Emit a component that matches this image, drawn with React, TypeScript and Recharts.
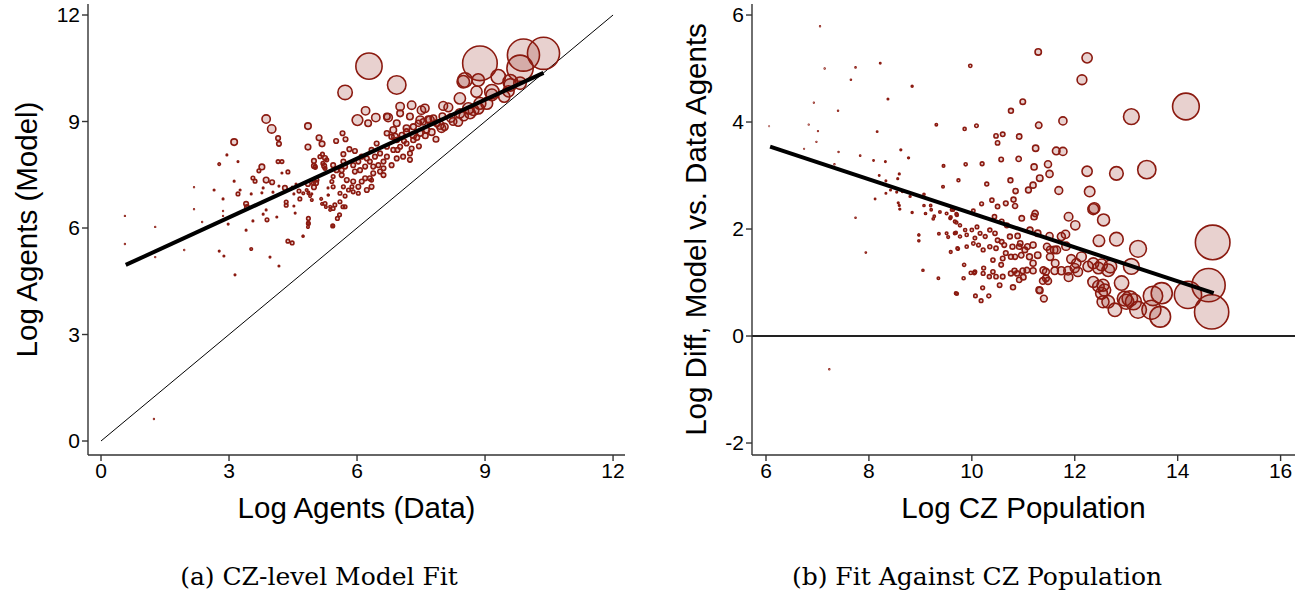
import React from 'react';
import { ScatterChart, Scatter, XAxis, YAxis, ZAxis, ReferenceLine, Label } from 'recharts';

// Panel (a): [log agents (data), log agents (model), log CZ population]
const panelAPoints: [number, number, number][] = [
  [3.87, 9.07, 11.8], [4.0, 8.79, 11.8], [3.12, 8.42, 11.3], [4.85, 8.87, 11.3], [5.11, 8.54, 11.0],
  [5.18, 8.37, 11.0], [4.85, 8.28, 11.0], [4.15, 8.53, 10.6], [4.17, 8.37, 10.6], [2.95, 8.06, 8.4],
  [3.21, 7.87, 8.4], [2.77, 7.8, 9.4], [4.15, 7.87, 10.1], [4.24, 7.87, 10.1], [3.77, 7.72, 11.0],
  [3.7, 7.61, 10.1], [4.99, 7.89, 10.6], [5.25, 7.97, 10.6], [4.99, 7.75, 10.6], [5.23, 7.75, 10.6],
  [4.38, 7.58, 10.1], [4.24, 7.55, 8.4], [3.56, 7.41, 10.1], [3.61, 7.32, 10.1], [3.87, 7.35, 11.0],
  [4.01, 7.29, 10.6], [3.12, 7.32, 8.4], [2.18, 7.15, 7.0], [2.65, 7.07, 8.4], [3.26, 7.07, 8.4],
  [3.8, 7.13, 8.4], [3.77, 6.99, 8.4], [3.52, 6.96, 8.4], [3.21, 6.96, 10.1], [4.03, 7.01, 8.4],
  [4.17, 7.18, 8.4], [4.31, 7.13, 10.6], [4.48, 7.15, 8.4], [4.57, 7.24, 8.4], [4.64, 7.04, 10.1],
  [4.52, 6.96, 8.4], [4.85, 7.24, 10.6], [5.04, 7.27, 10.6], [4.99, 7.15, 10.6], [4.87, 7.01, 8.4],
  [4.94, 6.96, 8.4], [4.66, 6.82, 10.1], [5.32, 7.13, 8.4], [5.32, 6.93, 8.4], [2.86, 6.82, 8.4],
  [3.4, 6.68, 10.6], [3.42, 6.59, 10.6], [4.34, 6.73, 10.1], [4.34, 6.64, 10.1], [4.52, 6.62, 8.4],
  [3.87, 6.51, 8.4], [5.16, 6.82, 9.4], [5.18, 6.68, 9.4], [5.27, 6.59, 9.4], [5.37, 6.51, 9.4],
  [2.18, 6.53, 7.0], [2.86, 6.48, 7.0], [2.86, 6.34, 7.0], [3.8, 6.39, 8.4], [4.12, 6.31, 8.4],
  [4.55, 6.42, 8.4], [3.89, 6.23, 10.1], [3.56, 6.2, 8.4], [2.37, 6.17, 7.0], [2.98, 6.11, 8.4],
  [0.56, 6.34, 7.0], [1.27, 6.03, 7.0], [4.85, 6.14, 9.4], [4.85, 6.03, 9.4], [5.44, 6.06, 9.4],
  [3.4, 5.94, 8.4], [4.73, 5.77, 8.4], [4.38, 5.63, 10.1], [4.48, 5.58, 10.1], [0.56, 5.55, 7.0],
  [1.27, 5.18, 7.0], [1.95, 5.38, 7.0], [2.77, 5.35, 8.4], [2.88, 5.21, 8.4], [3.52, 5.41, 9.4],
  [3.96, 5.18, 8.4], [4.17, 4.93, 8.4], [3.14, 4.68, 8.4], [1.24, 0.62, 7.0],
  [5.51, 8.45, 10.6], [5.66, 8.67, 10.6], [5.73, 8.5, 10.6], [5.82, 8.22, 10.6], [5.95, 8.17, 10.6],
  [5.68, 8.08, 10.6], [5.19, 8.08, 10.1], [5.2, 7.82, 10.1], [5.02, 7.71, 10.1], [5.25, 7.68, 10.1],
  [5.44, 7.77, 10.6], [5.52, 7.63, 10.6], [5.64, 7.63, 10.6], [5.72, 7.73, 10.6], [5.68, 7.87, 10.6],
  [5.91, 7.77, 10.6], [6.03, 7.87, 10.6], [6.11, 8.01, 10.6], [6.23, 7.96, 10.6], [6.3, 7.87, 10.6],
  [6.19, 7.73, 10.6], [6.07, 7.63, 10.6], [5.95, 7.59, 10.6], [6.38, 7.73, 10.6], [6.5, 7.77, 10.6],
  [6.54, 7.59, 10.6], [6.38, 7.54, 10.6], [6.3, 7.4, 10.6], [6.19, 7.4, 10.6], [6.11, 7.31, 10.6],
  [6.62, 7.49, 10.6], [6.34, 7.16, 10.6], [6.23, 7.07, 10.6], [6.03, 7.16, 10.6], [5.91, 7.31, 10.6],
  [5.76, 7.35, 10.6], [5.64, 7.49, 10.6], [5.44, 7.45, 10.1], [5.41, 7.31, 10.1], [5.44, 7.16, 10.1],
  [5.68, 7.16, 10.1], [5.8, 7.07, 10.1], [5.88, 7.16, 10.1], [5.91, 7.02, 10.1], [6.03, 6.98, 10.1],
  [5.72, 6.9, 10.1], [5.6, 6.98, 10.1], [4.98, 7.26, 10.1], [5.06, 7.35, 10.1], [4.82, 7.07, 9.4],
  [4.86, 6.98, 9.4], [4.9, 6.9, 9.4], [4.74, 6.98, 9.4], [4.94, 6.79, 9.4], [5.25, 6.69, 10.1],
  [5.37, 6.6, 9.4], [5.44, 6.55, 10.1], [5.48, 6.65, 10.1], [5.6, 6.74, 10.1], [5.72, 6.6, 10.1],
  [5.59, 6.37, 10.1], [5.54, 6.27, 10.1], [5.33, 6.93, 8.4], [4.74, 5.77, 8.4], [5.13, 8.01, 10.1],
  [5.29, 7.92, 10.1], [6.34, 7.35, 10.1], [5.67, 6.6, 10.1], [5.02, 7.73, 10.1], [4.86, 6.27, 10.1],
  [4.86, 6.13, 10.1], [5.43, 6.06, 10.1],
  [6.7, 8.67, 10.8], [6.81, 8.57, 10.8], [6.93, 8.48, 10.8], [7.05, 8.62, 10.8], [7.16, 8.71, 11.1],
  [7.32, 8.85, 11.1], [7.44, 8.95, 11.2], [7.55, 8.99, 11.2], [7.67, 9.06, 11.3], [7.79, 9.09, 11.3],
  [6.7, 8.29, 10.6], [6.85, 8.2, 10.6], [7.01, 8.29, 10.6], [7.16, 8.38, 10.6], [7.32, 8.48, 10.8],
  [7.24, 8.1, 10.6], [7.08, 8.01, 10.6], [6.93, 7.96, 10.6], [6.7, 8.01, 10.6], [6.62, 7.87, 10.6],
  [6.81, 7.77, 10.6], [6.46, 8.38, 10.6], [6.54, 8.1, 10.6], [6.34, 8.2, 10.6], [6.42, 8.01, 10.6],
  [6.62, 7.68, 10.6], [7.24, 7.92, 10.6], [7.28, 8.24, 10.6], [7.48, 8.67, 11.1], [7.63, 8.76, 11.1],
  [7.87, 8.95, 11.3], [6.93, 8.95, 11.3], [7.01, 9.23, 11.3], [7.24, 9.14, 11.3],
  [7.4, 8.55, 11.0], [7.6, 8.6, 11.0], [7.75, 8.7, 11.3], [8.05, 8.85, 11.5], [8.25, 9.0, 11.6],
  [8.5, 9.15, 12.0], [7.85, 8.5, 11.0], [7.1, 8.45, 10.6], [6.95, 8.2, 10.6], [7.45, 8.3, 10.6],
  [6.7, 9.14, 11.3], [7.01, 9.42, 11.8], [7.28, 9.46, 11.8], [7.59, 9.37, 11.8], [8.02, 9.44, 11.9],
  [8.14, 9.4, 11.9], [7.48, 9.04, 11.8], [7.71, 9.04, 11.8], [7.94, 8.9, 11.8], [6.85, 8.76, 11.3],
  [7.16, 8.81, 11.3], [7.32, 8.62, 11.3], [6.89, 8.57, 11.3], [8.37, 8.99, 11.9], [8.41, 9.23, 12.0],
  [8.41, 9.65, 12.4], [8.61, 9.37, 12.4], [8.8, 9.84, 12.4], [8.88, 9.51, 12.5], [9.04, 9.51, 12.5],
  [9.16, 9.75, 12.5], [8.84, 9.37, 12.4], [8.53, 10.17, 12.9], [8.84, 10.17, 12.6], [9.31, 10.26, 12.9],
  [9.59, 10.12, 12.9], [9.82, 10.08, 12.6], [8.49, 10.12, 12.6], [9.16, 9.84, 12.9], [9.59, 10.03, 12.6],
  [8.65, 9.23, 12.3], [8.73, 9.32, 12.3], [7.98, 8.81, 11.8], [7.51, 9.32, 11.8], [6.73, 9.11, 11.8],
  [6.44, 9.11, 11.8], [6.01, 9.04, 12.3], [6.2, 9.3, 11.8], [6.26, 8.95, 11.3], [9.45, 9.7, 12.4],
  [9.55, 9.85, 12.4], [8.2, 9.1, 11.8], [8.0, 9.15, 11.3],
  [5.72, 9.82, 12.9], [6.93, 10.03, 13.4], [6.28, 10.56, 14.1], [9.82, 10.5, 14.1],
  [8.88, 10.64, 14.65], [9.9, 10.87, 14.5], [10.37, 10.92, 14.5],
];

// Panel (b): [log CZ population, log diff model vs. data]
const panelBPoints: [number, number][] = [
  [7.05, 5.79], [7.14, 5.0], [7.74, 5.02], [8.22, 5.1], [7.65, 4.79], [8.84, 4.67], [8.37, 4.43],
  [6.93, 4.36], [7.4, 4.21], [6.06, 3.92], [6.83, 3.95], [7.01, 3.83], [6.98, 3.63], [8.16, 3.82],
  [9.31, 3.95], [6.74, 3.5], [7.41, 3.44], [8.62, 3.48], [8.77, 3.33], [7.83, 3.37], [7.33, 3.21],
  [8.09, 3.28], [8.32, 3.26], [9.45, 3.18], [8.2, 3.0], [8.59, 3.03], [8.56, 2.94], [8.33, 2.9],
  [9.74, 2.91], [9.44, 2.79], [8.42, 2.73], [8.33, 2.67], [8.54, 2.69], [8.65, 2.7], [8.8, 2.61],
  [9.07, 2.65], [8.12, 2.56], [8.57, 2.49], [8.59, 2.44], [8.6, 2.37], [9.07, 2.44], [9.2, 2.44],
  [9.21, 2.36], [9.38, 2.32], [9.1, 2.29], [8.84, 2.31], [9.27, 2.24], [9.25, 2.19], [9.59, 2.22],
  [9.64, 2.36], [9.7, 2.28], [9.7, 2.12], [7.74, 2.21], [8.97, 1.89], [8.97, 1.78], [9.36, 1.91],
  [9.54, 1.85], [9.69, 1.93], [9.73, 1.63], [9.59, 1.57], [7.94, 1.56], [9.05, 1.23], [9.35, 1.08],
  [9.71, 0.79], [7.23, -0.62],
  [10.99, 4.38], [10.76, 4.21], [11.3, 3.94], [11.77, 4.02], [9.86, 3.87], [10.09, 3.93], [10.47, 3.74],
  [10.6, 3.77], [10.5, 3.61], [10.92, 3.73], [11.24, 3.51], [11.64, 3.46], [11.77, 3.45], [10.57, 3.3],
  [10.91, 3.31], [9.88, 3.21], [10.2, 3.22], [11.48, 3.21], [11.21, 3.16], [12.24, 3.08], [12.81, 3.04],
  [11.51, 3.03], [11.32, 2.95], [10.75, 2.91], [10.29, 2.84], [11.19, 2.82], [11.1, 2.73], [10.85, 2.71],
  [11.69, 2.72], [12.29, 2.7], [10.39, 2.54], [10.81, 2.55], [10.19, 2.47], [10.5, 2.42], [10.66, 2.48],
  [10.84, 2.43], [12.36, 2.37], [12.38, 2.39], [10.03, 2.34], [11.23, 2.29], [11.21, 2.23], [10.97, 2.2],
  [10.44, 2.23], [11.88, 2.23], [12.01, 2.07], [12.56, 2.17], [12.81, 1.81], [12.47, 1.78], [11.74, 1.86],
  [11.82, 1.9], [11.51, 1.87], [11.28, 1.92], [10.89, 1.87], [9.72, 1.64], [9.85, 1.33], [9.84, 1.08],
  [9.69, 0.8], [10.07, 0.75], [10.18, 0.66], [10.33, 0.75], [10.21, 0.9], [10.54, 0.95], [10.8, 0.91],
  [11.32, 0.85], [11.4, 0.7], [10.92, 1.05], [11.38, 1.03], [11.48, 1.03], [10.34, 1.11], [9.98, 1.18],
  [10.05, 1.18], [10.22, 1.17],
  [13.23, 1.63], [13.1, 1.3], [13.4, 3.11], [13.1, 4.1], [14.16, 4.29], [12.24, 5.2], [12.14, 4.79],
  [11.29, 5.31], [9.97, 5.05], [11.83, 1.68], [11.52, 1.61], [11.6, 1.61], [11.65, 1.61],
  [11.93, 1.44], [12.03, 1.36], [12.13, 1.48], [12.26, 1.3], [12.36, 1.36], [12.46, 1.27], [12.52, 1.33],
  [12.65, 1.23], [12.36, 1.01], [12.46, 0.93], [12.55, 0.95], [12.58, 0.86], [12.52, 0.8], [12.55, 0.64],
  [12.65, 0.64], [12.91, 0.99], [12.78, 0.49], [12.97, 0.7], [13.07, 0.7], [13.14, 0.64], [13.0, 0.64],
  [13.23, 0.49], [13.49, 0.49], [13.52, 0.75], [13.69, 0.8], [13.66, 0.36], [14.2, 0.77], [14.6, 0.95],
  [14.68, 1.75], [14.66, 0.45], [12.69, 1.3],
  [11.44, 1.2], [11.44, 1.08], [11.31, 0.86], [11.61, 1.22], [11.74, 1.22], [11.87, 1.22], [11.88, 1.1],
  [12.0, 1.27], [12.06, 1.2], [11.19, 1.22], [10.99, 1.22], [10.83, 1.22], [10.76, 1.17], [11.0, 1.1],
  [10.88, 1.17], [11.08, 1.67], [11.19, 1.7], [11.28, 1.51], [11.12, 1.48], [10.96, 1.51], [10.79, 1.67],
  [10.92, 1.67], [10.63, 1.7], [10.5, 1.79], [10.47, 1.64], [10.66, 1.55], [10.76, 1.48], [10.6, 1.45],
  [10.41, 1.42], [10.57, 1.33], [10.6, 1.11], [10.47, 1.11], [10.41, 1.2], [10.23, 1.27], [10.06, 1.2],
  [9.51, 2.29], [9.61, 2.36], [9.71, 2.26], [9.67, 2.14], [9.58, 2.2], [9.77, 2.07], [9.87, 1.98],
  [10.0, 1.98], [9.9, 1.89], [10.1, 2.04], [10.16, 1.92], [10.06, 1.83], [10.26, 1.86], [10.35, 1.98],
  [10.45, 1.92], [9.77, 1.86], [9.67, 1.92], [9.51, 1.92], [10.03, 1.73], [10.13, 1.7], [9.9, 1.67],
  [10.22, 1.61], [10.35, 1.67], [10.58, 1.76], [10.74, 1.86], [10.94, 1.73], [11.03, 1.61], [10.84, 1.48],
  [10.68, 2.07], [10.58, 2.14], [11.13, 1.98], [11.46, 1.67], [11.52, 1.48], [11.62, 1.36], [11.39, 1.23],
  [11.19, 1.36], [11.07, 1.23],
];

// Fitted lines and reference lines (data units)
const panelAFit = [{ x: 0.58, y: 4.96 }, { x: 10.37, y: 10.37 }];
const panelAFortyFive = [{ x: 0, y: 0 }, { x: 12, y: 12 }];
const panelBFit = [{ x: 6.08, y: 3.54 }, { x: 14.7, y: 0.8 }];

const panelATicks = [0, 3, 6, 9, 12];
const panelBXTicks = [6, 8, 10, 12, 14, 16];
const panelBYTicks = [-2, 0, 2, 4, 6];

const POP_MAX = Math.exp(14.65);

const panelAData = panelAPoints.map(([x, y, p]) => ({ x, y, z: Math.exp(p) }));
const panelBData = panelBPoints.map(([p, d]) => ({ x: p, y: d, z: Math.exp(p) }));

const RED = '#8b1a10';
const SANS = '"Liberation Sans", Arial, Helvetica, sans-serif';
const SERIF = '"DejaVu Serif", "Liberation Serif", serif';
const tickStyle = { fontSize: 21, fill: '#000', fontFamily: SANS };
const axisLine = { stroke: '#333', strokeWidth: 1.4 };
const titleStyle = { fontSize: 29.5, fill: '#000', fontFamily: SANS };

const NoMark = () => <g />;

export default function App() {
  return (
    <div style={{ position: 'absolute', left: 0, top: 0, width: 1304, height: 596, background: '#fff' }}>
      <div style={{ position: 'absolute', left: 0, top: 0 }}>
        <ScatterChart width={640} height={530} margin={{ top: 4, right: 15, bottom: 0, left: 0 }}>
          <XAxis
            type="number" dataKey="x" domain={[-0.305, 12.28]} ticks={panelATicks} allowDataOverflow
            axisLine={axisLine} tickLine={axisLine} tickSize={6} tick={tickStyle} height={75}
          >
            <Label value="Log Agents (Data)" position="insideBottom" offset={12} style={titleStyle} />
          </XAxis>
          <YAxis
            type="number" dataKey="y" domain={[-0.394, 12.31]} ticks={panelATicks} allowDataOverflow
            axisLine={axisLine} tickLine={axisLine} tickSize={6} tick={tickStyle} width={88}
          >
            <Label value="Log Agents (Model)" angle={-90} position="insideLeft" offset={27}
              style={{ ...titleStyle, textAnchor: 'middle' }} />
          </YAxis>
          <ZAxis type="number" dataKey="z" domain={[0, POP_MAX]} range={[0, 940]} scale="linear" />
          <Scatter data={panelAFortyFive} line={{ stroke: '#000', strokeWidth: 1 }} shape={NoMark} isAnimationActive={false} />
          <Scatter data={panelAData} fill={RED} fillOpacity={0.2} stroke={RED} strokeWidth={1.6} isAnimationActive={false} />
          <Scatter data={panelAFit} line={{ stroke: '#000', strokeWidth: 4 }} shape={NoMark} isAnimationActive={false} />
        </ScatterChart>
      </div>
      <div style={{ position: 'absolute', left: 660, top: 0 }}>
        <ScatterChart width={644} height={530} margin={{ top: 4, right: 9, bottom: 0, left: 0 }}>
          <XAxis
            type="number" dataKey="x" domain={[5.728, 16.28]} ticks={panelBXTicks} allowDataOverflow
            axisLine={axisLine} tickLine={axisLine} tickSize={6} tick={tickStyle} height={75}
          >
            <Label value="Log CZ Population" position="insideBottom" offset={12} style={titleStyle} />
          </XAxis>
          <YAxis
            type="number" dataKey="y" domain={[-2.224, 6.206]} ticks={panelBYTicks} allowDataOverflow
            axisLine={axisLine} tickLine={axisLine} tickSize={6} tick={tickStyle} width={92}
          >
            <Label value="Log Diff, Model vs. Data Agents" angle={-90} position="insideLeft" offset={36}
              style={{ ...titleStyle, textAnchor: 'middle' }} />
          </YAxis>
          <ZAxis type="number" dataKey="z" domain={[0, POP_MAX]} range={[0, 940]} scale="linear" />
          <ReferenceLine y={0} stroke="#222" strokeWidth={2.2} />
          <Scatter data={panelBData} fill={RED} fillOpacity={0.2} stroke={RED} strokeWidth={1.6} isAnimationActive={false} />
          <Scatter data={panelBFit} line={{ stroke: '#000', strokeWidth: 4 }} shape={NoMark} isAnimationActive={false} />
        </ScatterChart>
      </div>
      <svg width={1304} height={596} style={{ position: 'absolute', left: 0, top: 0, pointerEvents: 'none' }}>
        <text x={319} y={585} textAnchor="middle" fontSize={25} fontFamily={SERIF} fill="#000">
          (a) CZ-level Model Fit
        </text>
        <text x={977} y={585} textAnchor="middle" fontSize={25} fontFamily={SERIF} fill="#000">
          (b) Fit Against CZ Population
        </text>
      </svg>
    </div>
  );
}
